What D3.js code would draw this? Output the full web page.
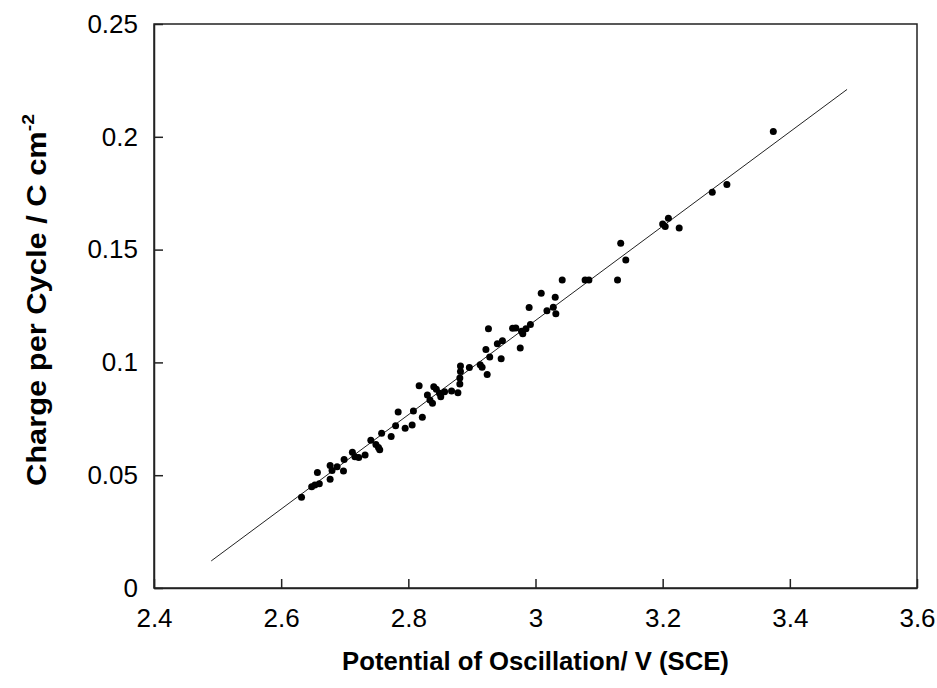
<!DOCTYPE html>
<html>
<head>
<meta charset="utf-8">
<script src="https://cdn.jsdelivr.net/npm/d3@7"></script>
<style>
  html, body { margin: 0; padding: 0; background: #fff; }
  svg { display: block; font-family: "Liberation Sans", Arial, sans-serif; }
</style>
</head>
<body>
<svg id="chart" width="937" height="688"></svg>
<script>
// ---- Data ----
const potential = [
  2.632, 2.648, 2.653, 2.660, 2.657, 2.677, 2.677, 2.680, 2.688, 2.698,
  2.699, 2.712, 2.716, 2.722, 2.732, 2.741, 2.749, 2.753, 2.755, 2.758,
  2.773, 2.780, 2.784, 2.795, 2.806, 2.808, 2.822, 2.817, 2.830, 2.834,
  2.838, 2.840, 2.844, 2.849, 2.851, 2.857, 2.868, 2.878, 2.881, 2.881,
  2.882, 2.882, 2.896, 2.913, 2.916, 2.922, 2.928, 2.924, 2.926, 2.940,
  2.948, 2.946, 2.964, 2.969, 2.978, 2.980, 2.985, 2.992, 2.976, 2.990,
  3.009, 3.018, 3.028, 3.032, 3.031, 3.042, 3.078, 3.084, 3.129, 3.134,
  3.142, 3.200, 3.204, 3.209, 3.226, 3.278, 3.301, 3.374
];
const charge = [
  0.0402, 0.0449, 0.0457, 0.0462, 0.0512, 0.0482, 0.0543, 0.0521, 0.0538, 0.0519,
  0.0570, 0.0602, 0.0582, 0.0578, 0.0590, 0.0655, 0.0636, 0.0623, 0.0613, 0.0686,
  0.0671, 0.0719, 0.0780, 0.0708, 0.0723, 0.0785, 0.0757, 0.0897, 0.0855, 0.0833,
  0.0819, 0.0892, 0.0881, 0.0863, 0.0848, 0.0870, 0.0873, 0.0866, 0.0904, 0.0931,
  0.0960, 0.0984, 0.0977, 0.0990, 0.0978, 0.1057, 0.1024, 0.0946, 0.1149, 0.1083,
  0.1096, 0.1016, 0.1151, 0.1152, 0.1138, 0.1127, 0.1149, 0.1168, 0.1064, 0.1243,
  0.1306, 0.1229, 0.1245, 0.1216, 0.1289, 0.1365, 0.1365, 0.1365, 0.1365, 0.1528,
  0.1454, 0.1613, 0.1602, 0.1639, 0.1596, 0.1754, 0.1789, 0.2023
];
// linear fit line endpoints
const fitX = [2.49, 3.49];
const fitY = [0.012, 0.221];

const xTicks = [2.4, 2.6, 2.8, 3.0, 3.2, 3.4, 3.6];
const xTickLabels = ["2.4", "2.6", "2.8", "3", "3.2", "3.4", "3.6"];
const yTicks = [0, 0.05, 0.1, 0.15, 0.2, 0.25];
const yTickLabels = ["0", "0.05", "0.1", "0.15", "0.2", "0.25"];

// ---- Layout ----
const svg = d3.select("#chart");
const mLeft = 154, mRight = 917, mTop = 24, mBottom = 588;

const x = d3.scaleLinear().domain([2.4, 3.6]).range([mLeft, mRight]);
const y = d3.scaleLinear().domain([0, 0.25]).range([mBottom, mTop]);

// frame
svg.append("rect")
  .attr("x", mLeft).attr("y", mTop)
  .attr("width", mRight - mLeft).attr("height", mBottom - mTop)
  .attr("fill", "none").attr("stroke", "#222").attr("stroke-width", 1.5);

// x axis (ticks pointing inward)
const xAxis = d3.axisBottom(x).tickValues(xTicks)
  .tickFormat((d, i) => xTickLabels[i]).tickSizeInner(-9).tickSizeOuter(0).tickPadding(21);
const gx = svg.append("g").attr("transform", `translate(0,${mBottom})`).call(xAxis);
gx.select(".domain").attr("stroke", "#222").attr("stroke-width", 1.5);
gx.selectAll(".tick line").attr("stroke", "#222").attr("stroke-width", 1.5);
gx.selectAll(".tick text").attr("font-size", 26).attr("fill", "#000")
  .attr("font-family", "Liberation Sans, Arial, sans-serif");

// y axis (ticks pointing inward)
const yAxis = d3.axisLeft(y).tickValues(yTicks)
  .tickFormat((d, i) => yTickLabels[i]).tickSizeInner(-9).tickSizeOuter(0).tickPadding(16);
const gy = svg.append("g").attr("transform", `translate(${mLeft},0)`).call(yAxis);
gy.select(".domain").attr("stroke", "#222").attr("stroke-width", 1.5);
gy.selectAll(".tick line").attr("stroke", "#222").attr("stroke-width", 1.5);
gy.selectAll(".tick text").attr("font-size", 26).attr("fill", "#000")
  .attr("font-family", "Liberation Sans, Arial, sans-serif");

// fit line
const fitData = fitX.map((v, i) => [v, fitY[i]]);
svg.append("path")
  .datum(fitData)
  .attr("d", d3.line().x(d => x(d[0])).y(d => y(d[1])))
  .attr("fill", "none").attr("stroke", "#222").attr("stroke-width", 1);

// points
const pts = potential.map((v, i) => ({ x: v, y: charge[i] }));
svg.append("g").selectAll("circle")
  .data(pts).join("circle")
  .attr("cx", d => x(d.x)).attr("cy", d => y(d.y))
  .attr("r", 3.5).attr("fill", "#000");

// axis titles
svg.append("text")
  .attr("x", (mLeft + mRight) / 2).attr("y", 670)
  .attr("text-anchor", "middle")
  .attr("font-size", 25.7).attr("font-weight", "bold").attr("fill", "#000")
  .text("Potential of Oscillation/ V (SCE)");

const yt = svg.append("text")
  .attr("transform", `translate(46,300) rotate(-90)`)
  .attr("text-anchor", "middle")
  .attr("textLength", 372).attr("lengthAdjust", "spacingAndGlyphs")
  .attr("font-size", 27).attr("font-weight", "bold").attr("fill", "#000");
yt.append("tspan").text("Charge per Cycle / C cm");
yt.append("tspan").attr("font-size", 17).attr("dy", -12).text("-2");
</script>
</body>
</html>
